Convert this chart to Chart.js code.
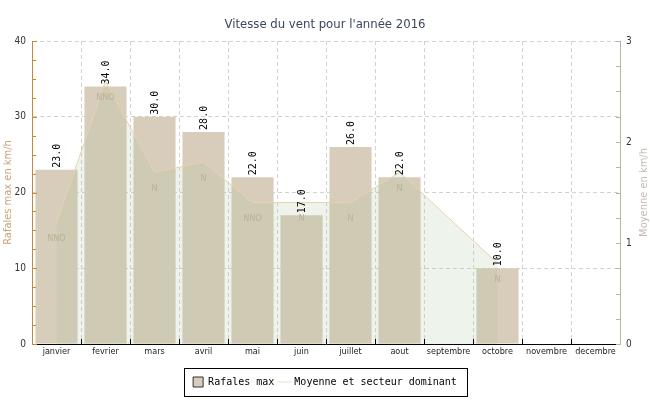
<!DOCTYPE html>
<html>
<head>
<meta charset="utf-8">
<script src="https://cdn.jsdelivr.net/npm/chart.js@4"></script>
<style>
  html, body { margin: 0; padding: 0; background: #fff; }
  #wrap { width: 650px; height: 400px; }
</style>
</head>
<body>
<div id="wrap"><canvas id="windChart"></canvas></div>
<script>
// Data
const months = ['janvier', 'fevrier', 'mars', 'avril', 'mai', 'juin', 'juillet', 'aout', 'septembre', 'octobre', 'novembre', 'decembre'];
const gustMax = [23, 34, 30, 28, 22, 17, 26, 22, null, 10, null, null];      // km/h, left axis
const avgSpeed = [1.2, 2.6, 1.7, 1.8, 1.4, 1.4, 1.4, 1.7, 1.25, 0.8, null, null]; // km/h, right axis
const sectors = ['NNO', 'NNO', 'N', 'N', 'NNO', 'N', 'N', 'N', null, 'N', null, null];
const leftTicks = [0, 10, 20, 30, 40];
const rightTicks = [0, 1, 2, 3];

const titleText = "Vitesse du vent pour l'année 2016";
const leftTitle = 'Rafales max en km/h';
const rightTitle = 'Moyenne en km/h';

const condensed = "'DejaVu Sans Condensed', 'Liberation Sans Narrow', 'DejaVu Sans', sans-serif";
const mono = "'DejaVu Sans Mono', 'Liberation Mono', monospace";

const gridDash = [4, 3];
const gridColor = '#d2d2d2';

// little inward ticks on the axes, value labels, sector labels, legend frame
const extras = {
  id: 'extras',
  afterDraw(chart) {
    const ctx = chart.ctx;
    const x = chart.scales.x, yL = chart.scales.y, yR = chart.scales.y2;
    ctx.save();

    // left axis ticks (inward)
    ctx.lineWidth = 1;
    ctx.strokeStyle = '#c8883a';
    yL.ticks.forEach(t => {
      const py = Math.round(yL.getPixelForValue(t.value)) + 0.5;
      const len = leftTicks.includes(t.value) ? 5 : 4;
      ctx.beginPath();
      ctx.moveTo(yL.right, py);
      ctx.lineTo(yL.right + len, py);
      ctx.stroke();
    });

    // right axis ticks (inward)
    ctx.strokeStyle = '#bab3a0';
    yR.ticks.forEach(t => {
      const py = Math.round(yR.getPixelForValue(t.value)) + 0.5;
      ctx.beginPath();
      ctx.moveTo(yR.left, py);
      ctx.lineTo(yR.left - 4, py);
      ctx.stroke();
    });

    // x axis ticks at category boundaries (inward)
    ctx.strokeStyle = '#000';
    const step = x.width / months.length;
    for (let i = 1; i < months.length; i++) {
      const px = Math.round(x.left + i * step) + 0.5;
      ctx.beginPath();
      ctx.moveTo(px, x.top);
      ctx.lineTo(px, x.top - 5);
      ctx.stroke();
    }

    // right axis title, reading bottom to top
    ctx.fillStyle = '#c2bbab';
    ctx.font = '11px ' + condensed;
    ctx.textAlign = 'center';
    ctx.textBaseline = 'middle';
    ctx.translate(644, (yR.top + yR.bottom) / 2);
    ctx.rotate(-Math.PI / 2);
    ctx.fillText(rightTitle, 0, 0);
    ctx.setTransform(1, 0, 0, 1, 0, 0);

    // bar value labels, rotated
    const barMeta = chart.getDatasetMeta(0);
    ctx.fillStyle = '#000';
    ctx.font = '10px ' + mono;
    ctx.textAlign = 'left';
    ctx.textBaseline = 'middle';
    barMeta.data.forEach((bar, i) => {
      if (gustMax[i] == null) return;
      ctx.save();
      ctx.translate(bar.x + 1, bar.y - 2);
      ctx.rotate(-Math.PI / 2);
      ctx.fillText(gustMax[i].toFixed(1), 0, 0);
      ctx.restore();
    });

    // dominant sector under each point of the line
    const lineMeta = chart.getDatasetMeta(1);
    ctx.fillStyle = '#bdb094';
    ctx.font = '9px ' + condensed;
    ctx.textAlign = 'center';
    lineMeta.data.forEach((pt, i) => {
      if (!sectors[i] || avgSpeed[i] == null) return;
      ctx.fillText(sectors[i], pt.x, pt.y + 16);
    });

    // legend frame
    const lg = chart.legend;
    if (lg && lg.legendHitBoxes.length) {
      const hb = lg.legendHitBoxes;
      const l = Math.round(Math.min(...hb.map(h => h.left)) - 9) + 0.5;
      const r = Math.round(Math.max(...hb.map(h => h.left + h.width)) + 10) + 0.5;
      const cy = hb[0].top + hb[0].height / 2;
      const t = Math.round(cy - 14) + 0.5;
      ctx.strokeStyle = '#000';
      ctx.strokeRect(l, t, r - l, 28);
    }
    ctx.restore();
  }
};

new Chart(document.getElementById('windChart'), {
  data: {
    labels: months,
    datasets: [
      {
        type: 'bar',
        label: 'Rafales max',
        data: gustMax,
        yAxisID: 'y',
        backgroundColor: '#d8ccba',
        borderWidth: 0,
        barPercentage: 0.86,
        categoryPercentage: 1,
        pointStyle: 'rect',
        order: 1,
      },
      {
        type: 'line',
        label: 'Moyenne et secteur dominant',
        data: avgSpeed,
        yAxisID: 'y2',
        borderColor: '#e6d3b0',
        borderWidth: 1,
        backgroundColor: 'rgba(160, 195, 150, 0.18)',
        fill: 'origin',
        tension: 0,
        pointRadius: 0,
        pointStyle: 'line',
        order: 0,
      },
    ],
  },
  options: {
    responsive: true,
    maintainAspectRatio: false,
    animation: false,
    layout: { padding: { left: 0, right: 0, top: 0, bottom: 3 } },
    scales: {
      x: {
        z: 1,
        offset: true,
        grid: {
          offset: true,
          drawTicks: false,
          color: c => (c.index === 0 || c.index === months.length) ? 'rgba(0,0,0,0)' : gridColor,
        },
        border: { color: '#000', width: 1, dash: gridDash },
        ticks: {
          autoSkip: false,
          maxRotation: 0,
          padding: 2,
          color: '#222',
          font: { family: condensed, size: 9 },
        },
        afterFit: s => { s.height = 28; },
      },
      y: {
        z: 1,
        position: 'left',
        min: 0,
        max: 40,
        grid: {
          drawTicks: false,
          color: c => (c.tick && c.tick.value > 0 && leftTicks.includes(c.tick.value)) ? gridColor : 'rgba(0,0,0,0)',
        },
        border: { color: '#c8883a', width: 1, dash: gridDash },
        ticks: {
          stepSize: 2.5,
          maxTicksLimit: 50,
          autoSkip: false,
          padding: 6,
          color: '#333',
          font: { family: condensed, size: 10 },
          callback: v => leftTicks.includes(v) ? v : '',
        },
        title: {
          display: true,
          text: leftTitle,
          color: '#c9a377',
          font: { family: condensed, size: 11 },
          padding: { top: 2, bottom: 0 },
        },
        afterFit: s => { s.width = 32; },
      },
      y2: {
        z: 1,
        position: 'right',
        min: 0,
        max: 3,
        grid: { display: false, drawTicks: false },
        border: { color: '#bab3a0', width: 1 },
        ticks: {
          stepSize: 0.25,
          maxTicksLimit: 50,
          autoSkip: false,
          padding: 6,
          color: '#333',
          font: { family: condensed, size: 10 },
          callback: v => rightTicks.includes(v) ? v : '',
        },
        afterFit: s => { s.width = 30; },
      },
    },
    plugins: {
      title: {
        display: true,
        text: titleText,
        color: '#3b4660',
        font: { family: condensed, size: 13, weight: 'normal', lineHeight: 1.2 },
        padding: { top: 17, bottom: 8.4 },
      },
      legend: {
        position: 'bottom',
        labels: {
          usePointStyle: true,
          boxWidth: 10,
          boxHeight: 10,
          padding: 5,
          color: '#000',
          font: { family: mono, size: 10 },
          sort: (a, b) => a.datasetIndex - b.datasetIndex,
          generateLabels: chart => chart.data.datasets.map((ds, i) => ({
            text: ds.label,
            datasetIndex: i,
            fillStyle: i === 0 ? '#d8ccba' : '#e6d3b0',
            strokeStyle: i === 0 ? '#333' : '#ece0c8',
            lineWidth: 1,
            pointStyle: ds.pointStyle,
            hidden: false,
          })),
        },
      },
      tooltip: { enabled: false },
    },
  },
  plugins: [extras],
});
</script>
</body>
</html>
